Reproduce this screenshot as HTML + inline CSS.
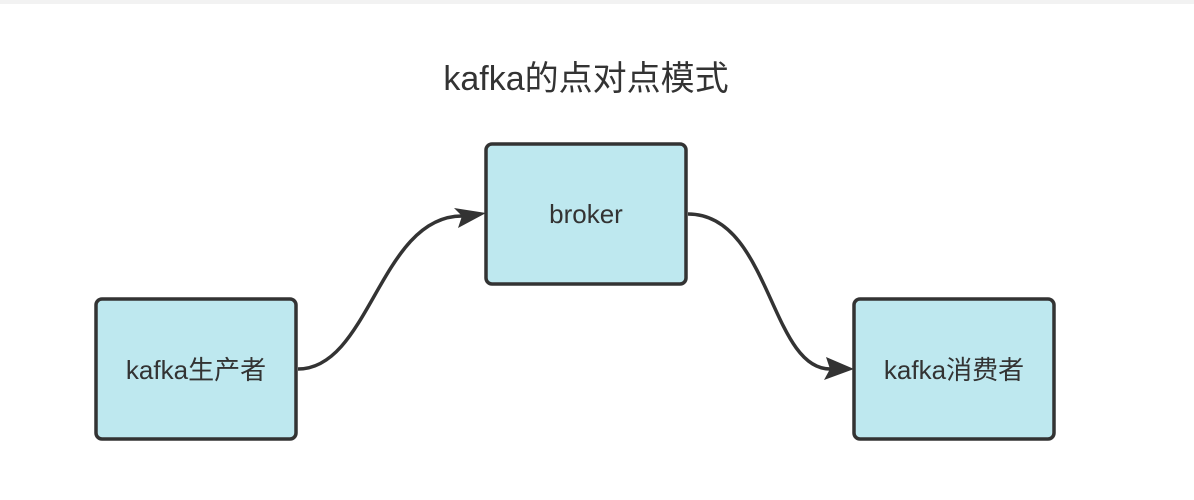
<!DOCTYPE html>
<html><head><meta charset="utf-8"><style>
body{margin:0;background:#fff;width:1194px;height:500px;overflow:hidden;position:relative;font-family:"Liberation Sans","Noto Sans CJK SC",sans-serif;}
.bar{position:absolute;left:0;top:0;width:1194px;height:4px;background:#f2f2f2;}
</style></head><body>
<div class="bar"></div>
<svg width="1194" height="500" style="position:absolute;left:0;top:0">
<g fill="none" stroke="#333" stroke-width="3.5">
<path d="M298,369 C370,369 380,216 462,216" />
<path d="M688,214 C770,214 770,369 830,369" />
</g>
<path d="M454,208 L486,213 L458,228 L462,216 z" fill="#333"/>
<path d="M826,357 L854,369 L824,380 L830,369 z" fill="#333"/>
<g fill="#bee8ef" stroke="#333" stroke-width="3.5">
<rect x="486" y="144" width="200" height="140" rx="6"/>
<rect x="96" y="299" width="200" height="140" rx="6"/>
<rect x="854" y="299" width="200" height="140" rx="6"/>
</g>
<g fill="#333" font-family="Liberation Sans, Noto Sans CJK SC, sans-serif" text-anchor="middle">
<text x="586" y="90" font-size="34">kafka的点对点模式</text>
<text x="586" y="223" font-size="26">broker</text>
<text x="196" y="379" font-size="26">kafka生产者</text>
<text x="954" y="379" font-size="26">kafka消费者</text>
</g>
</svg>
</body></html>
